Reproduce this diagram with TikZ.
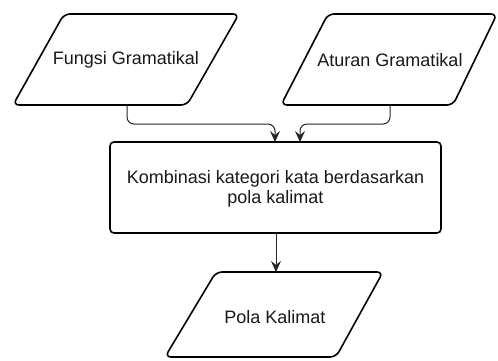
\documentclass[tikz,border=0pt]{standalone}
\usepackage{fontspec}
\setmainfont{Liberation Sans}
\usetikzlibrary{arrows.meta}
\begin{document}
\begin{tikzpicture}[x=1pt,y=-1pt,
  shapebox/.style={draw=black, line width=1.6pt, rounded corners=6pt, fill=white},
  conn/.style={draw=black!85, line width=1pt, rounded corners=7pt,
    -{Stealth[length=11pt,width=10pt,inset=4pt]}},
  lbl/.style={font=\fontsize{18}{20}\selectfont, text=black!90, align=center, inner sep=0pt}]
\useasboundingbox (0,0) rectangle (498,360);
% parallelograms
\draw[shapebox] (64,14) -- (239,14) -- (187,105) -- (13,105) -- cycle;
\node[lbl] (fg) at (126,60) {Fungsi Gramatikal};
\draw[shapebox] (328,14) -- (497,14) -- (453,105) -- (281,105) -- cycle;
\node[lbl] (ag) at (390,60) {Aturan Gramatikal};
\node[draw=black, line width=1.6pt, rounded corners=4pt, fill=white,
  minimum width=331pt, minimum height=91pt, inner sep=0pt] (kb) at (275.5,187.5) {};
\node[lbl] (kbt) at (275.5,189) {Kombinasi kategori kata berdasarkan\\pola kalimat};
\draw[shapebox] (216,272) -- (383,272) -- (336,357) -- (165,357) -- cycle;
\node[lbl] (pk) at (275,317) {Pola Kalimat};
% connector anchors
\coordinate (fgb) at (127,105);
\coordinate (agb) at (390,105);
\coordinate (pkt) at (276,272);
\coordinate (kin1) at (275,142);
\coordinate (kin2) at (300,142);
\coordinate (kout) at (276,233);
\draw[conn] (fgb) -- (127,124) -- (275,124) -- (kin1);
\draw[conn] (agb) -- (390,124) -- (300,124) -- (kin2);
\draw[conn] (kout) -- (pkt);
\end{tikzpicture}
\end{document}
